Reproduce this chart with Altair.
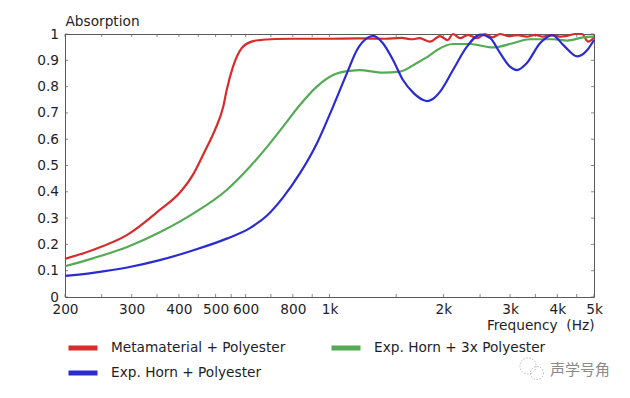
import altair as alt
import pandas as pd

# ---- data ----
series_names = ["Metamaterial + Polyester", "Exp. Horn + Polyester", "Exp. Horn + 3x Polyester"]
series_colors = ["#d92b2b", "#2b2bd4", "#55aa55"]

red_freq = [200, 237, 292, 356, 403, 437, 455, 469, 498, 524, 535, 556, 586, 622, 655, 720, 800,
            1000, 1200, 1400, 1550, 1650, 1730, 1844, 1958, 2053, 2120, 2213, 2323, 2454, 2577,
            2688, 2825, 2964, 3140, 3320, 3492, 3668, 3860, 4066, 4250, 4454, 4648, 4822, 5000]
red_abs = [0.145, 0.179, 0.236, 0.331, 0.398, 0.468, 0.517, 0.556, 0.635, 0.724, 0.787, 0.876,
           0.946, 0.971, 0.977, 0.981, 0.982, 0.982, 0.983, 0.982, 0.985, 0.980, 0.984, 0.971,
           0.992, 0.977, 1.000, 0.984, 0.997, 0.984, 1.000, 0.987, 1.000, 0.992, 0.996, 0.990,
           0.997, 0.990, 0.996, 0.990, 0.993, 1.000, 1.000, 0.971, 0.987]

green_freq = [200, 237, 292, 356, 435, 535, 616, 684, 754, 835, 926, 1022, 1132, 1200, 1384,
              1535, 1702, 1844, 1925, 2120, 2354, 2700, 3053, 3380, 3900, 4250, 4680, 5000]
green_abs = [0.117, 0.147, 0.190, 0.246, 0.316, 0.407, 0.495, 0.571, 0.648, 0.730, 0.800, 0.844,
             0.860, 0.863, 0.853, 0.857, 0.890, 0.920, 0.939, 0.962, 0.962, 0.949, 0.965, 0.980,
             0.980, 0.975, 0.987, 0.990]

blue_freq = [200, 237, 292, 356, 435, 535, 616, 684, 754, 835, 926, 1022, 1112, 1182, 1256, 1305,
             1384, 1472, 1564, 1666, 1768, 1810, 1870, 1958, 2120, 2308, 2505, 2660, 2825, 2998,
             3130, 3320, 3600, 3880, 4150, 4520, 4800, 5000]
blue_abs = [0.080, 0.092, 0.112, 0.140, 0.177, 0.222, 0.262, 0.310, 0.379, 0.470, 0.584, 0.724,
            0.851, 0.939, 0.984, 0.993, 0.965, 0.901, 0.825, 0.776, 0.749, 0.745, 0.752, 0.780,
            0.863, 0.952, 0.998, 0.984, 0.927, 0.876, 0.863, 0.889, 0.965, 0.996, 0.958, 0.915,
            0.939, 0.977]

x_label_values = [200, 300, 400, 500, 600, 800, 1000, 2000, 3000, 4000, 5000]
x_tick_values = [200, 250, 300, 350, 400, 450, 500, 550, 600, 700, 800, 900, 1000,
                 1500, 2000, 2500, 3000, 3500, 4000, 4500, 5000]
y_tick_values = [0, 0.1, 0.2, 0.3, 0.4, 0.5, 0.6, 0.7, 0.8, 0.9, 1]
y_tick_labels = ["0", "0.1", "0.2", "0.3", "0.4", "0.5", "0.6", "0.7", "0.8", "0.9", "1"]

watermark = "声学号角"

# ---- build tables ----
rows = []
for name, fs, vs in zip(["Metamaterial + Polyester", "Exp. Horn + 3x Polyester", "Exp. Horn + Polyester"],
                        [red_freq, green_freq, blue_freq],
                        [red_abs, green_abs, blue_abs]):
    for f, v in zip(fs, vs):
        rows.append({"series": name, "freq": f, "abs": v})
df = pd.DataFrame(rows)
xt = pd.DataFrame({"freq": x_tick_values})
yt = pd.DataFrame({"abs": y_tick_values, "lab": y_tick_labels})
wm = pd.DataFrame({"w": [watermark]})

FONT = "DejaVu Sans"
FS = 13.7
TXT = "#1e1e28"
GRAY = "#5a5a5a"

xscale = alt.Scale(type="log", domain=[200, 5000], nice=False)
yscale = alt.Scale(domain=[0, 1], nice=False, zero=False)

x_axis = alt.Axis(values=x_label_values,
                  labelExpr="datum.value >= 1000 ? (datum.value/1000) + 'k' : datum.value",
                  title="Frequency\u00a0\u00a0(Hz)", titleX=529, titleY=28,
                  titleAlign="right", titleBaseline="middle", titleAnchor="end",
                  ticks=False, tickSize=0, domain=False, grid=False,
                  labelPadding=5, labelFlush=False, labelOverlap=False)
y_axis = alt.Axis(labels=False,
                  title="Absorption", titleAngle=0, titleX=0, titleY=-9,
                  titleAlign="left", titleBaseline="alphabetic", titleAnchor="start",
                  ticks=False, tickSize=0, domain=False, grid=False)

lines = alt.Chart(df).mark_line(strokeWidth=2.2, interpolate="monotone").encode(
    x=alt.X("freq:Q", scale=xscale, axis=x_axis),
    y=alt.Y("abs:Q", scale=yscale, axis=y_axis),
    color=alt.Color("series:N",
                    scale=alt.Scale(domain=series_names, range=series_colors),
                    legend=alt.Legend(title=None, orient="none", legendX=1, legendY=304,
                                      columns=2, symbolType="stroke", symbolStrokeWidth=5,
                                      symbolSize=841, labelFont=FONT, labelFontSize=FS,
                                      labelColor=TXT, labelOffset=11, columnPadding=43,
                                      clipHeight=20, rowPadding=5, labelLimit=0)),
)

tick_style = dict(color=GRAY, thickness=1, size=3)
bottom = alt.Chart(xt).mark_tick(orient="vertical", yOffset=-1.5, **tick_style).encode(
    x=alt.X("freq:Q", scale=xscale), y=alt.datum(0))
top = alt.Chart(xt).mark_tick(orient="vertical", yOffset=1.5, **tick_style).encode(
    x=alt.X("freq:Q", scale=xscale), y=alt.datum(1))
left = alt.Chart(yt).mark_tick(orient="horizontal", xOffset=1.5, **tick_style).encode(
    y=alt.Y("abs:Q", scale=yscale), x=alt.datum(200))
right = alt.Chart(yt).mark_tick(orient="horizontal", xOffset=-1.5, **tick_style).encode(
    y=alt.Y("abs:Q", scale=yscale), x=alt.datum(5000))
ylabels = alt.Chart(yt).mark_text(align="right", baseline="middle", xOffset=-6, dy=0.5,
                                  font=FONT, fontSize=FS, color=TXT).encode(
    y=alt.Y("abs:Q", scale=yscale), x=alt.datum(200), text="lab:N")

wm_text = alt.Chart(wm).mark_text(align="left", baseline="middle", font="Noto Sans CJK SC",
                                  fontSize=15, color="#8a8a8a").encode(
    text="w:N", x=alt.value(485), y=alt.value(336))
wm_icon1 = alt.Chart(wm).mark_point(shape="circle", filled=False, color="#a0a0a0",
                                    strokeDash=[1.5, 1.5], strokeWidth=1, size=260).encode(
    x=alt.value(463), y=alt.value(332))
wm_icon2 = alt.Chart(wm).mark_point(shape="circle", filled=False, color="#a0a0a0",
                                    strokeDash=[1.5, 1.5], strokeWidth=1, size=170).encode(
    x=alt.value(472), y=alt.value(339))

chart = alt.layer(lines, bottom, top, left, right, ylabels, wm_icon1, wm_icon2, wm_text).properties(
    width=529, height=263,
    background="white",
    padding={"left": 57, "top": 26, "right": 20, "bottom": 93},
    autosize=alt.AutoSizeParams(type="none"),
).configure_view(stroke=GRAY, strokeWidth=1).configure_axis(
    labelFont=FONT, labelFontSize=FS, labelColor=TXT, labelOverlap=False,
    titleFont=FONT, titleFontSize=FS, titleColor=TXT, titleFontWeight="normal",
)

chart.save("out.html", embed_options={"renderer": "svg", "actions": False})
